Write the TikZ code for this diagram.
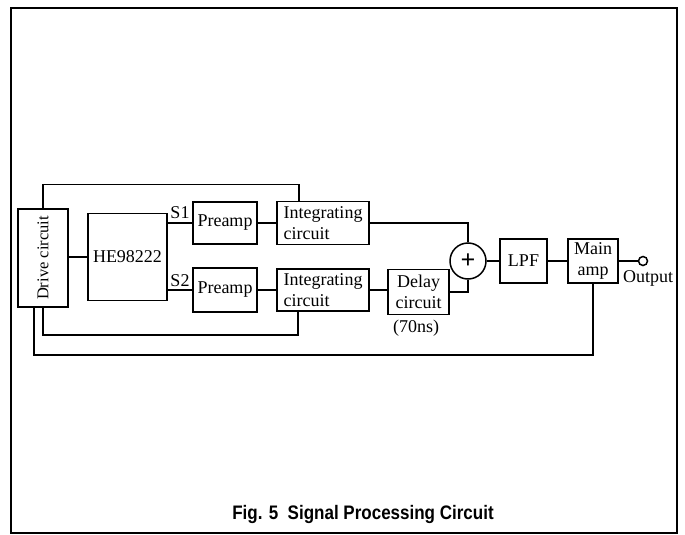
\documentclass[tikz,border=0pt]{standalone}
\usepackage{fontspec}
\setmainfont{Liberation Serif}
\newfontfamily\capfont{Liberation Sans}
\usetikzlibrary{positioning}
\begin{document}
\begin{tikzpicture}[x=1pt,y=-1pt,line width=1.5pt,
  blk/.style={draw,inner sep=2pt,font=\fontsize{18}{21}\selectfont},
  txt/.style={inner sep=1pt,font=\fontsize{18}{21}\selectfont}]

\useasboundingbox (0,0) rectangle (685,535);
\draw (11,8) rectangle (677,533);

\node[blk,minimum width=50,minimum height=98,font=\fontsize{16.5}{20}\selectfont] (drive) at (43,258) {\rotatebox{90}{Drive circuit}};
\node[blk,minimum width=79,minimum height=87] (he) at (127.5,257) {HE98222};

\node[blk,minimum width=64,minimum height=42] (pre1) at (225,223) {Preamp};
\node[blk,minimum width=64,minimum height=44] (pre2) at (225,290) {Preamp};

\node[blk,minimum width=92,minimum height=43,align=left] (int1) at (323,223) {Integrating\\circuit};
\node[blk,minimum width=92,minimum height=42,align=left] (int2) at (323,290) {Integrating\\circuit};

\node[blk,minimum width=61,minimum height=45,align=center] (delay) at (418.5,292) {Delay\\circuit};
\node[txt] (dly) at (416,328) {(70ns)};

\node[draw,circle,minimum size=36,inner sep=0pt,font=\bfseries\fontsize{26}{26}\selectfont] (sum) at (468,261) {+};
\node[blk,minimum width=47,minimum height=44] (lpf) at (523.5,261) {LPF};
\node[blk,minimum width=50,minimum height=44,align=center] (amp) at (593,261) {Main\\amp};
\node[draw,circle,minimum size=9,inner sep=0pt,fill=white] (out) at (643,261) {};
\node[txt] (outlbl) at (648,278) {Output};

\node[txt] (s1) at (180,213) {S1};
\node[txt] (s2) at (180,281) {S2};

\node[font=\capfont\bfseries\fontsize{17}{20}\selectfont] (cap) at (363,514) {\scalebox{1}[1.15]{Fig. 5\ \ Signal Processing Circuit}};

% signal path
\draw (drive.east |- he.west) -- (he.west);
\draw (he.east |- pre1.west) -- (pre1.west);
\draw (he.east |- pre2.west) -- (pre2.west);
\draw (pre1.east) -- (int1.west);
\draw (pre2.east) -- (int2.west);
\draw (int1.east) -| (sum.north);
\draw (int2.east) -- (int2.east -| delay.west);
\draw (delay.east) -| (sum.south);
\draw (sum.east) -- (lpf.west);
\draw (lpf.east) -- (amp.west);
\draw (amp.east) -- (out.west);

% drive loops
\draw (drive.north) -- ++(0,-24) -| ([xshift=-24pt]int1.north);
\draw (drive.south) -- ++(0,27) -| ([xshift=-25pt]int2.south);
\draw ([xshift=-9pt]drive.south) -- ++(0,47) -| (amp.south);
\end{tikzpicture}
\end{document}
